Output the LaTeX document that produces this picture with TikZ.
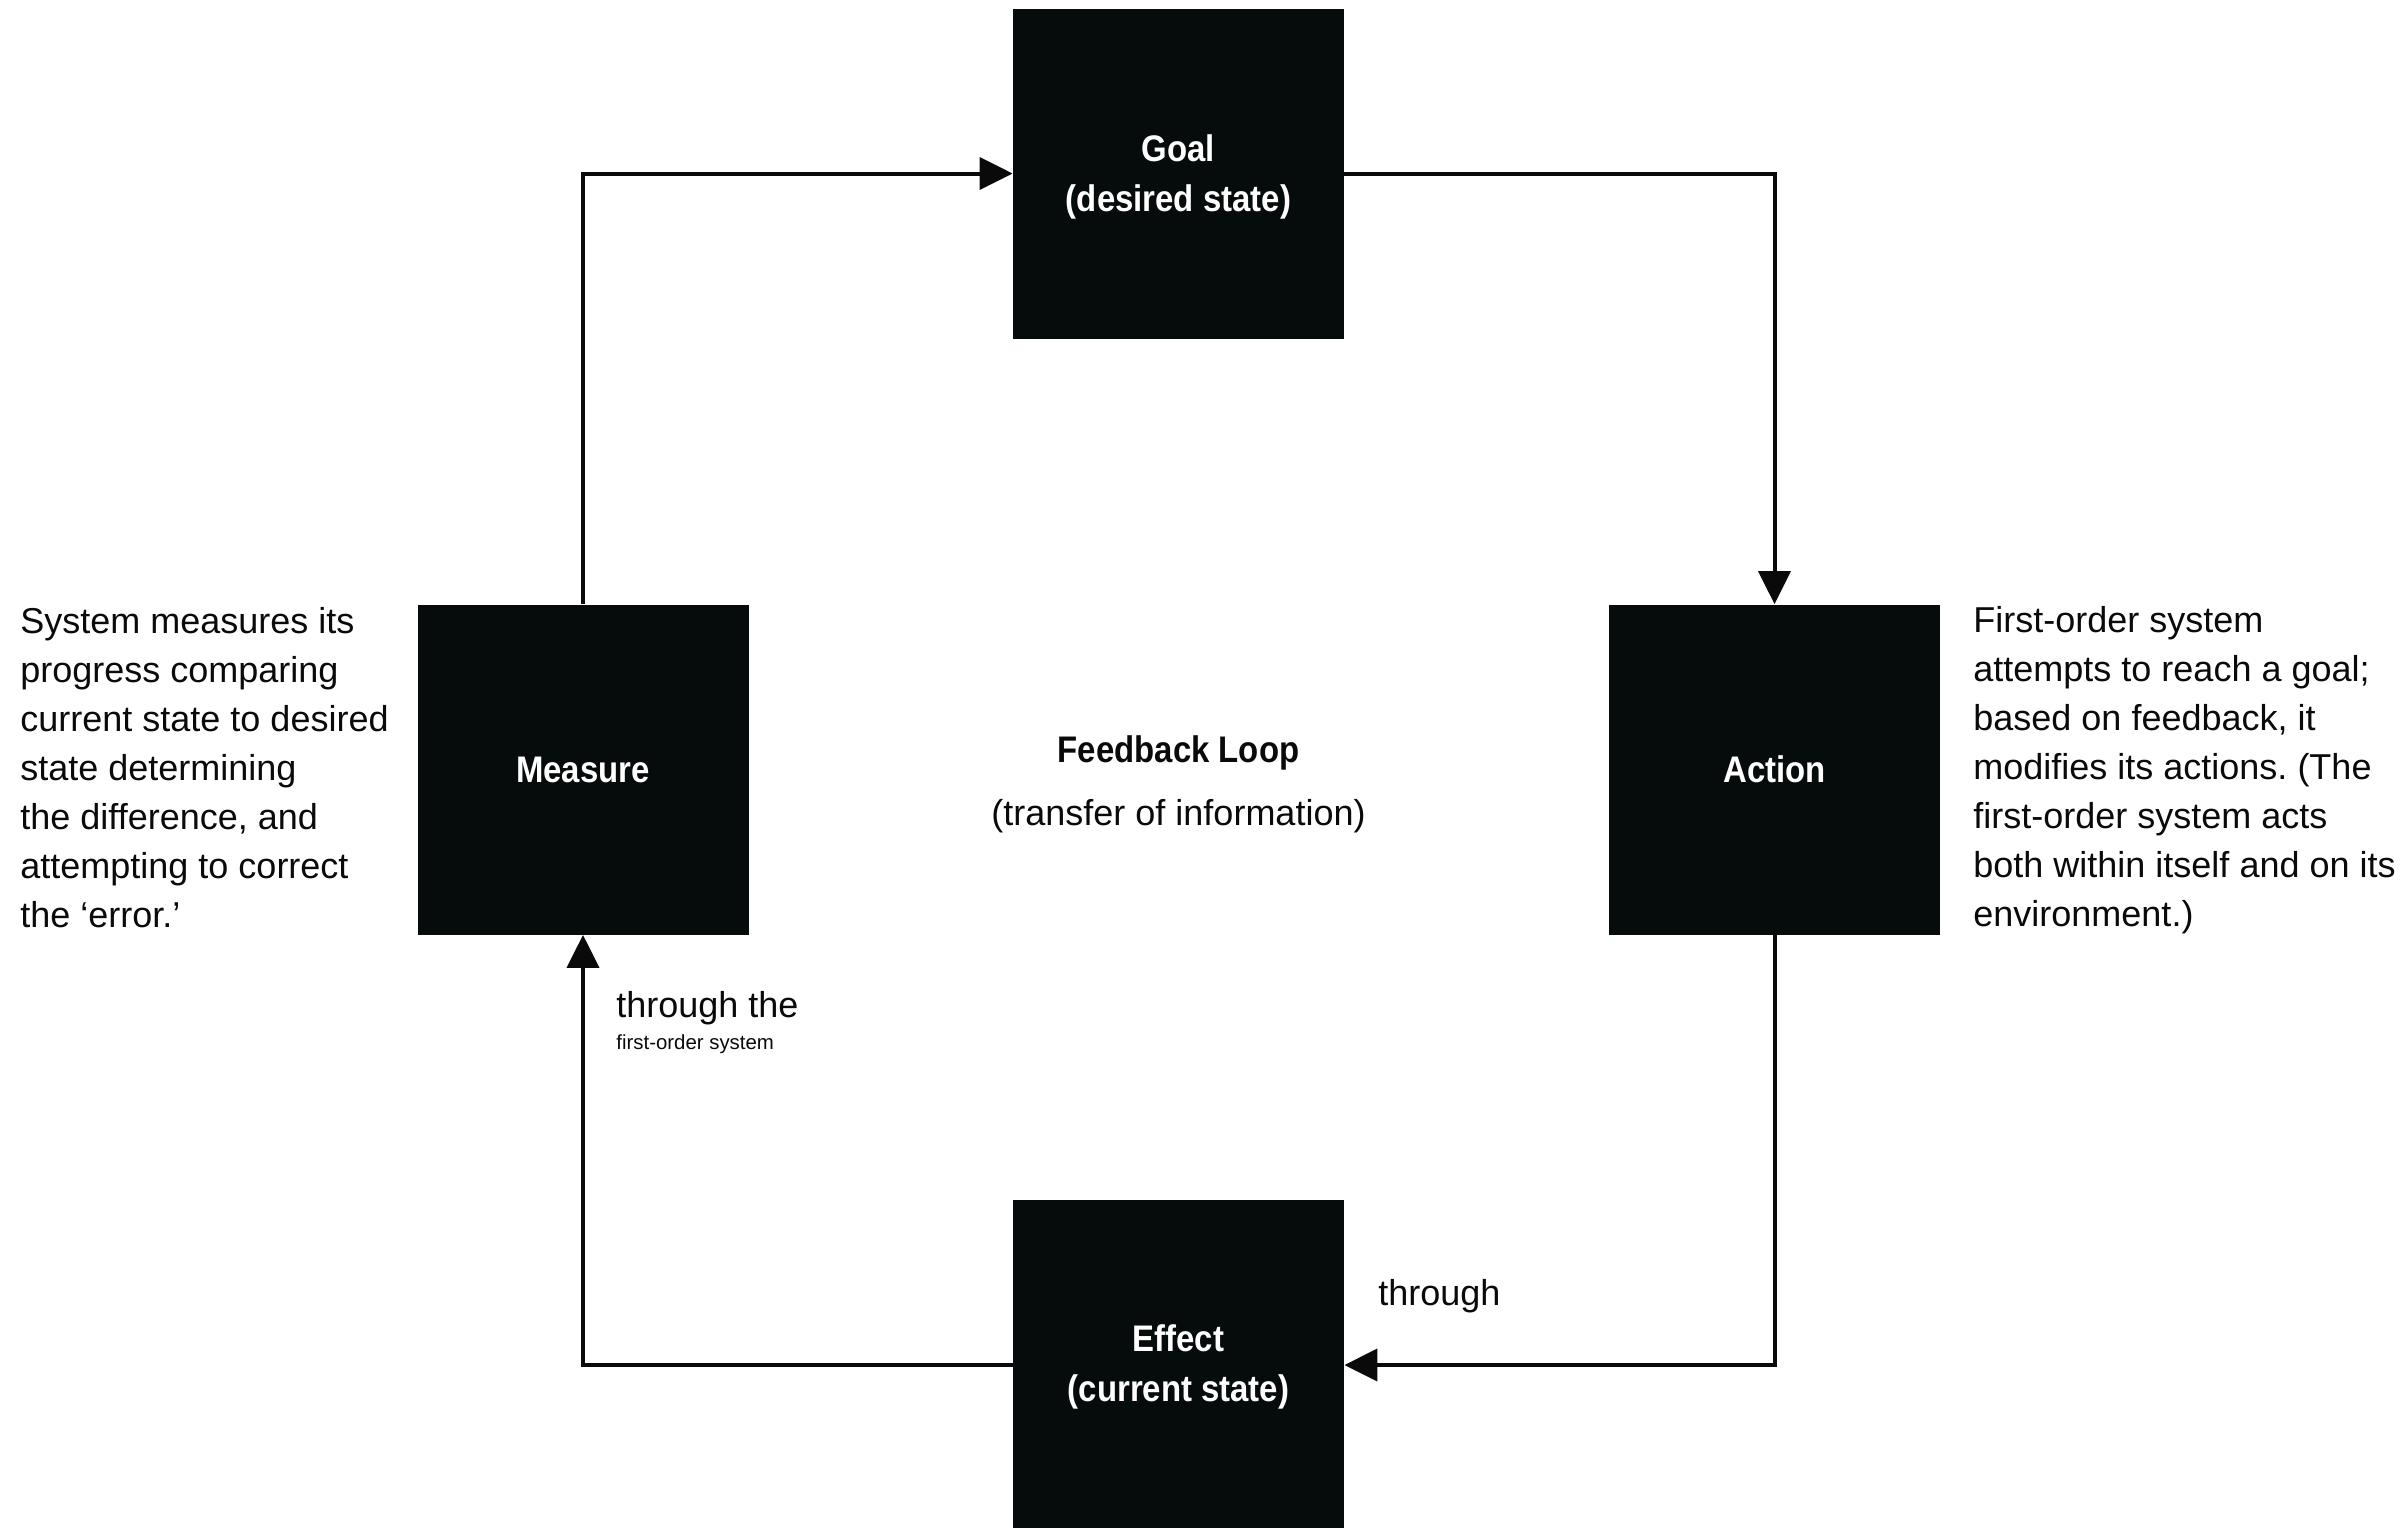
\documentclass[tikz,border=0pt]{standalone}
\usepackage{fontspec}
\setmainfont{Liberation Sans}
\newfontfamily\condbf{Liberation Sans}[FakeStretch=0.89]
\usetikzlibrary{arrows.meta}
\frenchspacing

\definecolor{boxblack}{RGB}{6,11,11}
\definecolor{ink}{RGB}{10,10,10}

\tikzset{
  stagebox/.style={fill=boxblack, draw=none, minimum width=165.5pt, minimum height=165pt,
    inner sep=0pt},
  stagetext/.style={inner sep=0pt, text=white, align=center,
    font=\condbf\bfseries\fontsize{18.5pt}{25pt}\selectfont},
  flow/.style={draw=ink, line width=2pt, -{Triangle[length=16.5pt,width=16pt]}},
  note/.style={anchor=base west, inner sep=0pt, text=ink,
    font=\fontsize{18pt}{24.5pt}\selectfont},
  caption/.style={anchor=base, inner sep=0pt, text=ink},
}

\begin{document}
\begin{tikzpicture}[x=0.5pt, y=-0.5pt]
  \useasboundingbox (0,0) rectangle (2408,1527);

  % the four stages of the loop
  \node[stagebox, label={[stagetext, yshift=-1.9pt]center:{Goal\\(desired state)}}]
    (goal) at (1178.5,173.5) {};
  \node[stagebox, label={[stagetext]center:Measure}]
    (measure) at (583,769.5) {};
  \node[stagebox, label={[stagetext]center:Action}]
    (action) at (1774.5,769.5) {};
  \node[stagebox, label={[stagetext, yshift=-1.1pt]center:{Effect\\(current state)}}]
    (effect) at (1178.5,1365) {};

  % connectors around the loop
  \draw[flow] (measure.north) |- (goal.west);
  \draw[flow] (goal.east) -| (action.north);
  \draw[flow] (action.south) |- (effect.east);
  \draw[flow] (effect.west) -| (measure.south);

  % centre caption
  \node[caption, font=\condbf\bfseries\fontsize{18.5pt}{24.5pt}\selectfont] (title) at (1178.5,762) {Feedback Loop};
  \node[caption, font=\fontsize{18pt}{24.5pt}\selectfont] (subtitle) at (1178.5,825) {(transfer of information)};

  % side notes
  \node[note] (leftnote) at (20,633) {\begin{tabular}[t]{@{}l@{}}
    System measures its\\
    progress comparing\\
    current state to desired\\
    state determining\\
    the difference, and\\
    attempting to correct\\
    the ‘error.’
  \end{tabular}};

  \node[note] (rightnote) at (1973,632) {\begin{tabular}[t]{@{}l@{}}
    First-order system\\
    attempts to reach a goal;\\
    based on feedback, it\\
    modifies its actions. (The\\
    first-order system acts\\
    both within itself and on its\\
    environment.)
  \end{tabular}};

  % connector labels
  \node[note] (thru1) at (616,1017) {through the};
  \node[note, font=\fontsize{10.2pt}{12pt}\selectfont] (thru1b) at (616,1049) {first-order system};
  \node[note] (thru2) at (1378,1305) {through};
\end{tikzpicture}
\end{document}
